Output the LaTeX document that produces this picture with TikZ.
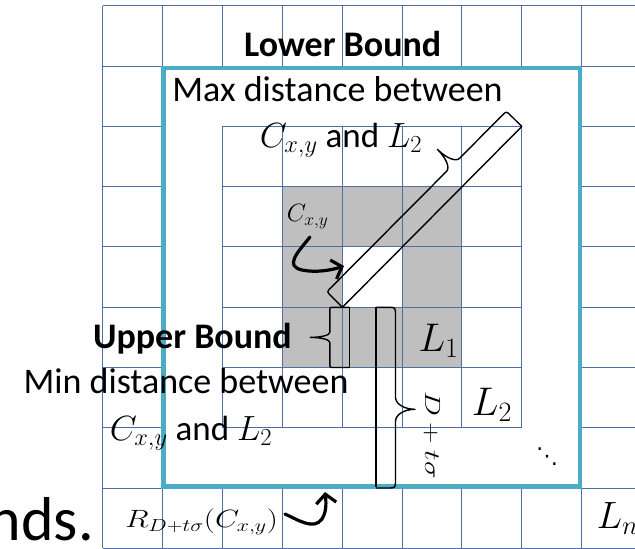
\RequirePackage{fix-cm}
\documentclass[tikz,border=0pt]{standalone}
\usepackage[no-math]{fontspec}
\setmainfont{Carlito}
\newfontfamily\dejavu{DejaVu Sans}
\usepackage{graphicx}
\usetikzlibrary{arrows.meta}
\definecolor{gridblue}{HTML}{4F6FA3}
\definecolor{ringblue}{HTML}{4BACC6}
\definecolor{cellgray}{HTML}{BFBFBF}
\tikzset{
  gridline/.style={draw=gridblue, line width=1pt},
  bline/.style={draw=black, line width=1.4pt},
  bracestyle/.style={draw=black, line width=1.4pt, line join=round},
  fatarrow/.style={draw=black, line width=3.2pt, line cap=round,
    -{Straight Barb[length=9pt, width=20pt]}},
  txt/.style={inner sep=0pt, font=\fontsize{36}{43}\selectfont},
  boldtxt/.style={inner sep=0pt, font=\fontsize{36}{43}\selectfont\bfseries},
  celllbl/.style={inner sep=0pt, font=\fontsize{40}{48}\selectfont},
  smalllbl/.style={inner sep=0pt, font=\fontsize{25}{30}\selectfont},
}
% #1 start, #2 angle, #3 length, #4 half width, #5 tip position, #6 tip half length, #7 corner radius
\newcommand{\drawbrace}[7]{%
  \begin{scope}[shift={#1}, rotate=#2]
    \draw[bracestyle] (0,0) -- (0,{-(#4-#7)}) .. controls (0,-#4) .. (#7,-#4)
      -- ({#5-#6},-#4) .. controls ({#5-0.448*#6},-#4) and (#5,{-1.448*#4}) .. (#5,{-2*#4})
      .. controls (#5,{-1.448*#4}) and ({#5+0.448*#6},-#4) .. ({#5+#6},-#4)
      -- ({#3-#7},-#4) .. controls (#3,-#4) .. (#3,{-(#4-#7)}) -- (#3,0);
  \end{scope}}
\begin{document}
\begin{tikzpicture}[x=1pt,y=-1pt]
\clip (0,0) rectangle (635,549);
\fill[white] (0,0) rectangle (635,549);
% outer grid
\foreach \i in {0,...,9} \draw[gridline] ({102.7+59.87*\i},5.7) -- ({102.7+59.87*\i},548.4);
\foreach \j in {0,...,9} \draw[gridline] (102.7,{5.7+60.3*\j}) -- (641.5,{5.7+60.3*\j});
% white ring area
\fill[white] (162.57,66.0) rectangle (581.66,488.1);
% gray L1 ring
\fill[cellgray] (282.31,186.6) rectangle (461.92,367.5);
\fill[white] (342.18,246.9) rectangle (402.05,307.2);
% inner grid
\foreach \i in {2,...,7} \draw[gridline] ({102.7+59.87*\i},126.3) -- ({102.7+59.87*\i},427.8);
\foreach \j in {2,...,7} \draw[gridline] (222.44,{5.7+60.3*\j}) -- (521.79,{5.7+60.3*\j});
% blue border
\draw[ringblue, line width=4.5pt] (163.3,68) rectangle (579.8,486.6);

% coordinates
\coordinate (cbl) at (342.4,307.3);
\coordinate (l2tr) at (521.8,126.5);
\coordinate (ubt) at (349.3,307.3);
\coordinate (ubb) at (349.3,367.5);
\coordinate (dt) at (376,307.3);
\coordinate (db) at (376,487);

% distance lines
\draw[bline] (cbl) -- (l2tr);
\draw[bline] (ubt) -- (ubb);
\draw[bline] (dt) -- (db);
% braces
\drawbrace{(cbl)}{45.16}{254.7}{22}{179}{9}{6}
\drawbrace{(dt)}{-90}{180.7}{19.5}{102}{12}{8}
\drawbrace{(ubb)}{90}{60.2}{19.5}{30.1}{5}{4}

% curved arrows
\coordinate (ca1) at (310,237);
\coordinate (ca2) at (344,266);
\draw[fatarrow] (ca1) .. controls (298,252) and (284,266) .. (302,270)
  .. controls (316,273) and (332,270) .. (ca2);
\coordinate (ra1) at (285,514);
\coordinate (ra2) at (325,492);
\draw[fatarrow] (ra1) .. controls (300,521) and (314,530) .. (322,519)
  .. controls (327,511) and (326,501) .. (ra2);

% texts
\node[boldtxt, anchor=base] (lb) at (342.7,56.7) {Lower Bound};
\node[txt, anchor=base] (maxd) at (337.5,101.7) {Max distance between};
\node[txt, anchor=base] (maxc) at (341,147.5) {\fontsize{35}{42}\selectfont$C_{x,y}$ and $L_2$};
\node[smalllbl, anchor=base west] (cxy) at (286.7,221.7) {$C_{x,y}$};
\node[boldtxt, anchor=base] (ub) at (192.4,348.5) {Upper Bound};
\node[celllbl, anchor=base west] (l1) at (418.3,351.7) {$L_1$};
\node[txt, anchor=base] (mind) at (186,393.3) {Min distance between};
\node[txt, anchor=base] (minc) at (191,440) {\fontsize{35}{42}\selectfont$C_{x,y}$ and $L_2$};
\node[celllbl, anchor=base west] (l2) at (471.7,415) {$L_2$};
\node[inner sep=0pt, rotate=-90, font=\fontsize{22}{26}\selectfont] (dts) at (432,435) {\scalebox{1.35}[1]{$D+t\sigma$}};
\node[inner sep=0pt, font=\dejavu\fontsize{22}{26}\selectfont] (dots) at (547,457) {⋱};
\node[inner sep=0pt, anchor=base east, font=\fontsize{62}{70}\selectfont] (nds) at (94,540) {nds.};
\node[smalllbl, anchor=base west] (rlab) at (125,527.3) {\scalebox{1.25}[1]{$R_{D+t\sigma}(C_{x,y})$}};
\node[inner sep=0pt, anchor=base west, font=\fontsize{38}{46}\selectfont] (ln) at (596.7,528.3) {$L_n$};
\end{tikzpicture}
\end{document}
